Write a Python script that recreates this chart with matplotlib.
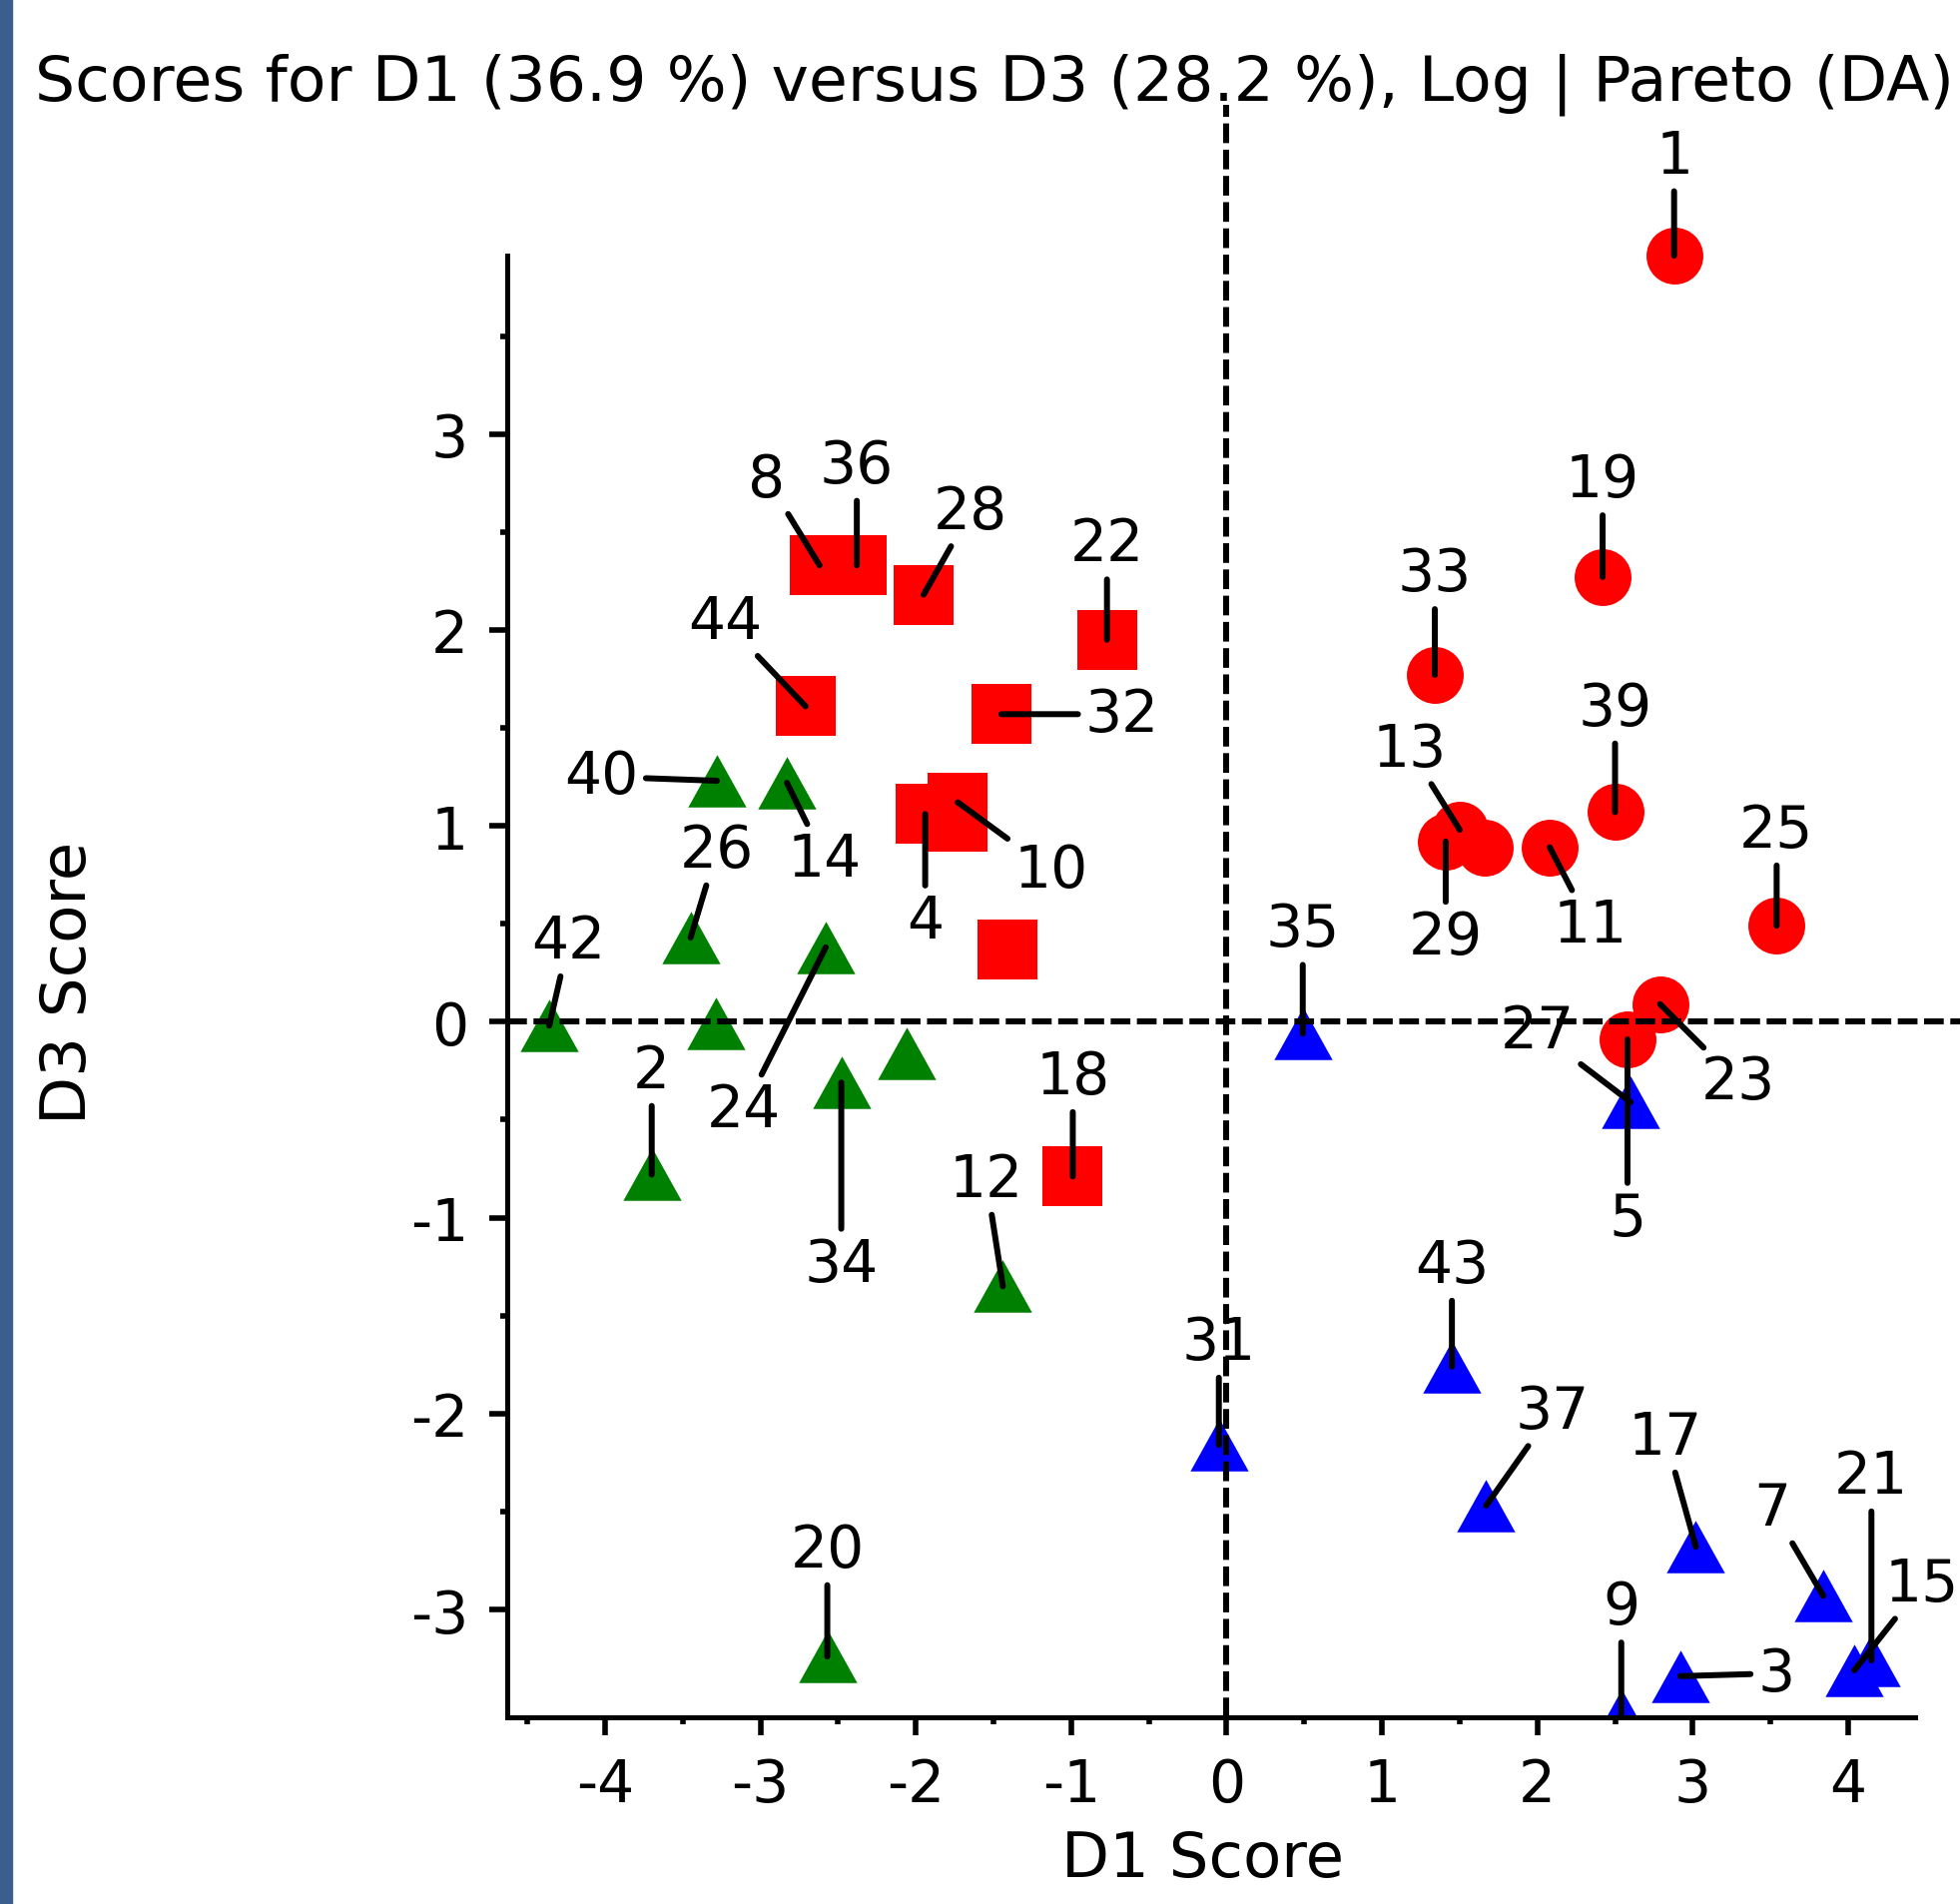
import matplotlib
matplotlib.use('Agg')
import matplotlib.pyplot as plt
from matplotlib.patches import Rectangle

plt.rcParams['font.family'] = ['DejaVu Sans']
plt.rcParams['axes.unicode_minus'] = False

title = 'Scores for D1 (36.9 %) versus D3 (28.2 %), Log | Pareto (DA)'

# red squares
sq_ids = ['8', '36', '28', '22', '44', '32', '4', '10', '', '', '18']
sq_x = [-2.62, -2.38, -1.95, -0.77, -2.71, -1.45, -1.94, -1.73, -1.73, -1.41, -0.99]
sq_y = [2.33, 2.33, 2.18, 1.95, 1.61, 1.57, 1.06, 1.12, 1.02, 0.37, -0.79]

# red circles
ci_ids = ['1', '19', '33', '39', '13', '29', '', '11', '25', '23', '5']
ci_x = [2.88, 2.42, 1.34, 2.50, 1.50, 1.41, 1.66, 2.08, 3.54, 2.79, 2.58]
ci_y = [3.91, 2.27, 1.77, 1.07, 0.98, 0.92, 0.89, 0.89, 0.49, 0.09, -0.09]

# green triangles
gr_ids = ['40', '14', '26', '42', '', '24', '34', '', '2', '12', '20']
gr_x = [-3.28, -2.83, -3.45, -4.36, -3.29, -2.58, -2.48, -2.06, -3.70, -1.44, -2.57]
gr_y = [1.23, 1.22, 0.43, -0.02, -0.01, 0.38, -0.31, -0.16, -0.78, -1.35, -3.24]

# blue triangles
bl_ids = ['35', '27', '43', '31', '37', '17', '7', '21', '15', '3', '9']
bl_x = [0.49, 2.60, 1.45, -0.05, 1.67, 3.02, 3.84, 4.15, 4.04, 2.92, 2.54]
bl_y = [-0.06, -0.41, -1.76, -2.16, -2.47, -2.68, -2.93, -3.26, -3.31, -3.34, -3.54]

x_major = [-4, -3, -2, -1, 0, 1, 2, 3, 4]
x_minor = [-4.5, -3.5, -2.5, -1.5, -0.5, 0.5, 1.5, 2.5, 3.5]
y_major = [-3, -2, -1, 0, 1, 2, 3]
y_minor = [-2.5, -1.5, -0.5, 0.5, 1.5, 2.5, 3.5]

# label offsets (points) from each marker
offsets = {
    '8': (-38, 62), '36': (0, 72), '28': (34, 60), '22': (0, 69),
    '44': (-58, 61), '32': (87, 0), '4': (0, -77), '10': (67, -49),
    '18': (0, 72),
    '1': (0, 72), '19': (0, 70), '33': (0, 73), '39': (0, 75),
    '13': (-36, 58), '29': (0, -69), '11': (29, -56), '25': (0, 69),
    '23': (56, -56), '5': (0, -129),
    '40': (-83, 3), '14': (27, -55), '26': (19, 63), '42': (14, 61),
    '24': (-59, -117), '34': (0, -131), '2': (0, 75), '12': (-12, 77),
    '20': (0, 77),
    '35': (0, 75), '27': (-67, 51), '43': (0, 73), '31': (0, 74),
    '37': (48, 68), '17': (-22, 79), '7': (-37, 63), '21': (0, 133),
    '15': (49, 62), '3': (69, 2), '9': (0, 78),
}

tri = [(0, 0.9), (-1, -0.9), (1, -0.9)]

W, H = 1963, 1908
fig = plt.figure(figsize=(W / 100, H / 100), dpi=100)
fig.patches.append(Rectangle((0, 0), 12 / W, 1, transform=fig.transFigure,
                             color='#3b5e8e', zorder=0))

ax = fig.add_axes([508 / W, 187 / H, 1455 / W, 1615 / H])
ax.set_xlim(-4.63, 4.72)
ax.set_ylim(-3.55, 4.68)

ax.scatter(sq_x, sq_y, marker='s', s=43 ** 2, color='#ff0000', linewidths=0, zorder=2)
ax.scatter(ci_x, ci_y, marker='o', s=41 ** 2, color='#ff0000', linewidths=0, zorder=2)
ax.scatter(gr_x, gr_y, marker=tri, s=42 ** 2, color='#008000', linewidths=0, zorder=2)
ax.scatter(bl_x, bl_y, marker=tri, s=42 ** 2, color='#0000ff', linewidths=0, zorder=2)

ax.axhline(0, color='black', lw=4.3, ls=(0, (3.3, 1.1)), zorder=3)
ax.axvline(0, color='black', lw=4.3, ls=(0, (3.3, 1.1)), zorder=3)

for ids, xs, ys in [(sq_ids, sq_x, sq_y), (ci_ids, ci_x, ci_y),
                    (gr_ids, gr_x, gr_y), (bl_ids, bl_x, bl_y)]:
    for lab, x, y in zip(ids, xs, ys):
        if not lab:
            continue
        ax.annotate(lab, (x, y), xytext=offsets[lab], textcoords='offset points',
                    ha='center', va='center', fontsize=42, zorder=4,
                    arrowprops=dict(arrowstyle='-', color='black', lw=4.3,
                                    shrinkA=3, shrinkB=0))

for s in ['top', 'right']:
    ax.spines[s].set_visible(False)
ax.spines['left'].set_bounds(-3.55, 3.91)
ax.spines['bottom'].set_bounds(-4.63, 4.43)
for s in ['left', 'bottom']:
    ax.spines[s].set_linewidth(3.6)

ax.set_xticks(x_major)
ax.set_xticks(x_minor, minor=True)
ax.set_yticks(y_major)
ax.set_yticks(y_minor, minor=True)
ax.tick_params(which='major', direction='out', length=13, width=4, labelsize=42, pad=15)
ax.tick_params(which='minor', direction='out', length=5, width=4)

ax.set_xlabel('D1 Score', fontsize=45)
ax.xaxis.set_label_coords(0.479, -0.0693)
ax.set_ylabel('D3 Score', fontsize=45)
ax.yaxis.set_label_coords(-0.281, 0.456)

fig.text(35 / W, 1 - 100 / H, title, ha='left', va='baseline', fontsize=45.5)

fig.savefig('out.png', dpi=100, facecolor='white')
